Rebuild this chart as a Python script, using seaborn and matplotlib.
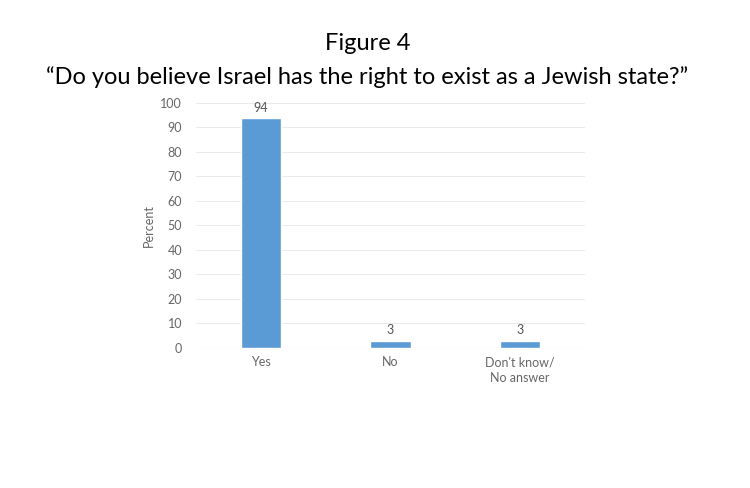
import matplotlib
matplotlib.use("Agg")
import matplotlib.pyplot as plt
import seaborn as sns
import pandas as pd

# Data
categories = ["Yes", "No", "Don't know/\nNo answer"]
percent = [94, 3, 3]

df = pd.DataFrame({"answer": categories, "percent": percent})

sns.set_style("white")
plt.rcParams['font.family'] = ['Lato', 'DejaVu Sans']

fig = plt.figure(figsize=(7.5, 4.88), dpi=100)
ax = fig.add_axes([0.2613, 0.2869, 0.5187, 0.5021])

sns.barplot(data=df, x="answer", y="percent", color="#5b9bd5",
            width=0.31, saturation=1, ax=ax, zorder=3)

ax.set_ylim(0, 100)
ax.set_yticks(range(0, 101, 10))
ax.grid(axis='y', color='#e6e6e6', linewidth=0.6, zorder=0)
ax.axhline(0, color='#d9d9d9', linewidth=0.8, zorder=1)
for s in ax.spines.values():
    s.set_visible(False)
ax.tick_params(axis='both', length=0, labelsize=9, colors='#666666', pad=10)
ax.tick_params(axis='x', pad=6)
for lbl in ax.get_xticklabels():
    lbl.set_linespacing(1.35)
ax.set_xlabel("")
ax.set_ylabel("Percent", fontsize=9, color='#666666', labelpad=4)

# value labels
for c in ax.containers:
    ax.bar_label(c, padding=3, fontsize=9, color='#555555')

fig.text(0.49, 0.91, "Figure 4", ha='center', va='center', fontsize=17, color='black')
fig.text(0.49, 0.842, "\u201cDo you believe Israel has the right to exist as a Jewish state?\u201d",
         ha='center', va='center', fontsize=17, color='black')

fig.savefig("out.png", dpi=100)
